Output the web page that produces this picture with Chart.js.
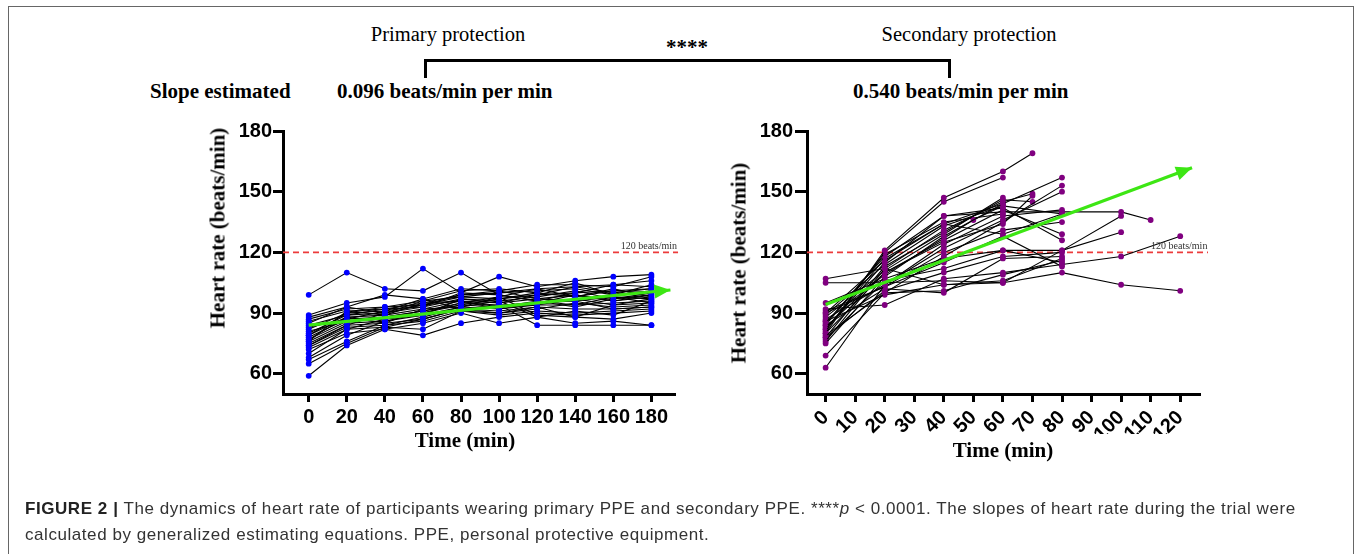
<!DOCTYPE html>
<html>
<head>
<meta charset="utf-8">
<script src="https://cdn.jsdelivr.net/npm/chart.js@4.4.1/dist/chart.umd.min.js"></script>
<style>
  html, body { margin:0; padding:0; background:#fff; }
  body { width:1357px; height:554px; position:relative; overflow:hidden; }
  .frame { position:absolute; left:8px; top:6px; width:1346px; height:560px; border:1.5px solid #666; box-sizing:border-box; }
  .t { position:absolute; white-space:nowrap; font-family:"Liberation Serif","Times New Roman",serif; color:#000; }
  .hdr { font-size:20.5px; transform:translate(-50%,-50%); }
  .bold { font-weight:bold; font-size:21px; }
  .ytitle { transform:translate(-50%,-50%) rotate(-90deg); }
  .xtitle { transform:translate(-50%,-50%); }
  .bracket { position:absolute; left:424px; top:59px; width:527px; height:19px; border-top:3px solid #000; border-left:3px solid #000; border-right:3px solid #000; box-sizing:border-box; }
  .cap { position:absolute; left:25px; white-space:nowrap; font-family:"Liberation Sans",Arial,sans-serif; font-size:17px; letter-spacing:0.56px; color:#333; }
  .cap b { color:#222; }
  .chartbox { position:absolute; top:0; height:554px; }
</style>
</head>
<body>
<div class="frame"></div>

<div class="t hdr" style="left:448px; top:34px;">Primary protection</div>
<div class="t hdr" style="left:969px; top:34px;">Secondary protection</div>
<div class="t bold" style="left:687px; top:47px; transform:translate(-50%,-50%);">****</div>
<div class="bracket"></div>
<div class="t bold" style="left:150px; top:91px; transform:translateY(-50%);">Slope estimated</div>
<div class="t bold" style="left:337px; top:91px; transform:translateY(-50%);">0.096 beats/min per min</div>
<div class="t bold" style="left:853px; top:91px; transform:translateY(-50%);">0.540 beats/min per min</div>

<div class="chartbox" style="left:0; width:700px;"><canvas id="c1"></canvas></div>
<div class="chartbox" style="left:700px; width:657px;"><canvas id="c2"></canvas></div>

<div class="t bold ytitle" style="left:218px; top:228px;">Heart rate (beats/min)</div>
<div class="t bold ytitle" style="left:739px; top:263px;">Heart rate (beats/min)</div>
<div class="t bold xtitle" style="left:465px; top:440px;">Time (min)</div>
<div class="t bold xtitle" style="left:1003px; top:450px;">Time (min)</div>

<div class="cap" style="top:499px;"><b>FIGURE 2 |</b> The dynamics of heart rate of participants wearing primary PPE and secondary PPE. ****<i>p</i> &lt; 0.0001. The slopes of heart rate during the trial were</div>
<div class="cap" style="top:525px;">calculated by generalized estimating equations. PPE, personal protective equipment.</div>

<script>
// ---------------- DATA ----------------
const primaryTimes = [0, 20, 40, 60, 80, 100, 120, 140, 160, 180];
const primaryHR = [
  [99, 110, 102, 101, 110, 99, 96, 100, 104, 103],
  [89, 95, 98, 112, 100, 108, 103, 106, 108, 109],
  [88, 93, 99, 97, 102, 101, 104, 104, 103, 108],
  [87, 92, 93, 96, 101, 102, 100, 105, 99, 104],
  [86, 91, 92, 95, 99, 100, 102, 98, 101, 100],
  [82, 90, 91, 94, 98, 97, 99, 103, 100, 102],
  [80, 89, 90, 93, 97, 96, 98, 101, 97, 99],
  [79, 88, 89, 92, 96, 95, 97, 96, 98, 97],
  [78, 87, 88, 91, 95, 94, 95, 99, 96, 98],
  [77, 86, 87, 90, 94, 93, 96, 94, 95, 96],
  [76, 85, 86, 89, 93, 92, 94, 97, 94, 95],
  [75, 84, 85, 87, 92, 91, 93, 92, 92, 93],
  [74, 83, 84, 86, 91, 90, 92, 95, 93, 94],
  [73, 82, 83, 82, 91, 89, 91, 90, 91, 92],
  [72, 80, 82, 79, 85, 88, 90, 89, 90, 91],
  [68, 79, 86, 90, 95, 98, 89, 88, 87, 90],
  [67, 76, 84, 88, 93, 96, 88, 85, 86, 84],
  [65, 75, 83, 87, 92, 94, 84, 84, 84, 84],
  [59, 74, 82, 85, 90, 85, 88, 91, 89, 96],
  [85, 93, 90, 96, 98, 100, 101, 102, 99, 101],
  [84, 89, 92, 93, 100, 99, 96, 93, 97, 100],
  [81, 86, 88, 91, 94, 97, 100, 98, 102, 98],
  [76, 91, 89, 95, 96, 92, 95, 96, 92, 93],
  [74, 84, 90, 94, 99, 101, 97, 99, 96, 99],
  [83, 87, 91, 97, 92, 90, 93, 88, 94, 97],
  [70, 82, 87, 89, 97, 95, 99, 100, 101, 102],
  [77, 88, 85, 92, 93, 98, 102, 103, 104, 106],
  [79, 90, 93, 94, 96, 93, 94, 94, 98, 95]
];
const primaryTrendX = [0, 190];
const primaryTrendY = [84, 101.4];

// secondary: each participant = list of [time, heart rate]
const secondaryHR = [
  [[0,63],[20,104],[40,122],[60,136],[80,150]],
  [[0,69],[20,100],[40,118],[60,135],[80,153]],
  [[0,75],[20,108],[40,128],[60,144],[80,157]],
  [[0,76],[20,112],[40,131],[60,145],[70,149]],
  [[0,78],[20,113],[40,130],[60,146],[70,145]],
  [[0,80],[20,121],[40,147],[60,160],[70,169]],
  [[0,81],[20,120],[40,145],[60,157]],
  [[0,82],[20,115],[40,138],[60,142],[80,126]],
  [[0,83],[20,110],[40,126],[60,141],[80,129]],
  [[0,85],[20,118],[40,138],[60,140],[80,140],[100,140],[110,136]],
  [[0,86],[20,109],[40,127],[50,136],[60,143]],
  [[0,87],[20,104],[40,124],[60,138],[80,141]],
  [[0,88],[20,111],[40,129],[60,147]],
  [[0,90],[20,116],[40,134],[60,144]],
  [[0,91],[20,103],[40,120],[60,131],[80,135]],
  [[0,92],[20,94],[40,107],[60,110],[80,114],[100,118],[120,128]],
  [[0,95],[20,107],[40,117],[60,121],[80,121],[100,130]],
  [[0,105],[20,105],[40,106],[60,105],[80,110],[100,104],[120,101]],
  [[0,107],[20,112],[40,104],[60,105],[80,121],[100,138]],
  [[0,84],[20,102],[40,100],[60,117],[80,118]],
  [[0,79],[20,100],[40,101],[60,109],[80,116]],
  [[0,77],[20,106],[40,112],[60,121],[80,115]],
  [[0,82],[20,117],[40,134],[60,129],[80,139]],
  [[0,89],[20,114],[40,133],[60,143],[80,139]],
  [[0,80],[20,110],[40,125],[60,134],[70,148]],
  [[0,84],[20,119],[40,135],[60,139]],
  [[0,90],[20,103],[40,115],[60,128],[80,113]],
  [[0,78],[20,101],[40,110],[60,118],[80,120]],
  [[0,86],[20,99],[40,104],[60,106],[80,117]]
];
const secondaryTrendX = [0, 124];
const secondaryTrendY = [94.3, 161.8];

const yTicks = [60, 90, 120, 150, 180];
const primaryXTicks = [0, 20, 40, 60, 80, 100, 120, 140, 160, 180];
const secondaryXTicks = [0, 10, 20, 30, 40, 50, 60, 70, 80, 90, 100, 110, 120];
const thresholdHR = 120;
const thresholdLabel = '120 beats/min';

// ---------------- HELPERS ----------------
const GREEN = '#3de614';
const tickFont = { family: '"Liberation Sans", Arial, sans-serif', size: 20, weight: 'bold' };

const overlayPlugin = {
  id: 'overlay',
  afterDatasetsDraw(chart, args, opts) {
    const ctx = chart.ctx, xs = chart.scales.x, ys = chart.scales.y;
    const x0 = xs.getPixelForValue(opts.trendX[0]), y0 = ys.getPixelForValue(opts.trendY[0]);
    const x1 = xs.getPixelForValue(opts.trendX[1]), y1 = ys.getPixelForValue(opts.trendY[1]);
    const a = Math.atan2(y1 - y0, x1 - x0);
    const L = 16, W = 7;
    ctx.save();
    ctx.fillStyle = GREEN;
    ctx.beginPath();
    ctx.moveTo(x1, y1);
    ctx.lineTo(x1 - L*Math.cos(a) + W*Math.sin(a), y1 - L*Math.sin(a) - W*Math.cos(a));
    ctx.lineTo(x1 - L*Math.cos(a) - W*Math.sin(a), y1 - L*Math.sin(a) + W*Math.cos(a));
    ctx.closePath();
    ctx.fill();
    ctx.fillStyle = '#333';
    ctx.font = '10px "Liberation Serif", serif';
    ctx.textAlign = 'right';
    ctx.textBaseline = 'alphabetic';
    ctx.fillText(thresholdLabel, xs.getPixelForValue(opts.labelX), ys.getPixelForValue(thresholdHR) - 3);
    ctx.restore();
  }
};

function makeChart(id, cfg) {
  const datasets = [];
  datasets.push({
    data: [{x: cfg.xmin, y: thresholdHR}, {x: cfg.lineEnd, y: thresholdHR}],
    borderColor: '#ec3b3b', borderWidth: 1.6, borderDash: [6, 4],
    pointRadius: 0, clip: false, order: 3
  });
  cfg.series.forEach(pts => {
    datasets.push({
      data: pts,
      borderColor: '#000', borderWidth: 1.1,
      pointRadius: 2.9, pointBackgroundColor: cfg.dot, pointBorderColor: cfg.dot, pointBorderWidth: 0,
      order: 2
    });
  });
  datasets.push({
    data: cfg.trendX.map((x, i) => ({x, y: cfg.trendY[i]})),
    borderColor: GREEN, borderWidth: 3.2, pointRadius: 0, order: 1
  });

  return new Chart(document.getElementById(id), {
    type: 'line',
    data: { datasets },
    plugins: [overlayPlugin],
    options: {
      responsive: true, maintainAspectRatio: false, animation: false,
      events: [],
      layout: { padding: cfg.padding },
      plugins: { legend: { display: false }, tooltip: { enabled: false },
        overlay: { trendX: cfg.trendX, trendY: cfg.trendY, labelX: cfg.labelX } },
      scales: {
        x: {
          type: 'linear', min: cfg.xmin, max: cfg.xmax,
          border: { display: true, width: 3, color: '#000' },
          grid: { drawOnChartArea: false, drawTicks: true, tickLength: cfg.xTickLen, tickWidth: 3, tickColor: '#000' },
          ticks: { font: tickFont, color: '#000', padding: cfg.xPad, maxRotation: cfg.rot, minRotation: cfg.rot, autoSkip: false },
          afterBuildTicks: s => { s.ticks = cfg.xTicks.map(v => ({ value: v })); },
          afterFit: s => { s.height = 40; }
        },
        y: {
          type: 'linear', min: 50, max: 180,
          border: { display: true, width: 3, color: '#000' },
          grid: { drawOnChartArea: false, drawTicks: true, tickLength: cfg.yTickLen, tickWidth: 3, tickColor: '#000' },
          ticks: { font: tickFont, color: '#000', padding: cfg.yPad },
          afterBuildTicks: s => { s.ticks = yTicks.map(v => ({ value: v })); },
          afterFit: s => { s.width = 60; }
        }
      }
    }
  });
}

makeChart('c1', {
  series: primaryHR.map(row => row.map((v, i) => ({ x: primaryTimes[i], y: v }))),
  dot: '#0000ff',
  xmin: -13.5, xmax: 192.4, lineEnd: 194, labelX: 193.5,
  xTicks: primaryXTicks, rot: 0, xTickLen: 8, xPad: 3, yTickLen: 10, yPad: 1,
  trendX: primaryTrendX, trendY: primaryTrendY,
  padding: { left: 223, right: 25, top: 131, bottom: 120 }
});

makeChart('c2', {
  series: secondaryHR.map(p => p.map(([t, v]) => ({ x: t, y: v }))),
  dot: '#800080',
  xmin: -6.3, xmax: 126.7, lineEnd: 129.4, labelX: 129.2,
  xTicks: secondaryXTicks, rot: 45, xTickLen: 8, xPad: 4, yTickLen: 12, yPad: 2,
  trendX: secondaryTrendX, trendY: secondaryTrendY,
  padding: { left: 47, right: 157, top: 131, bottom: 120 }
});
</script>
</body>
</html>
